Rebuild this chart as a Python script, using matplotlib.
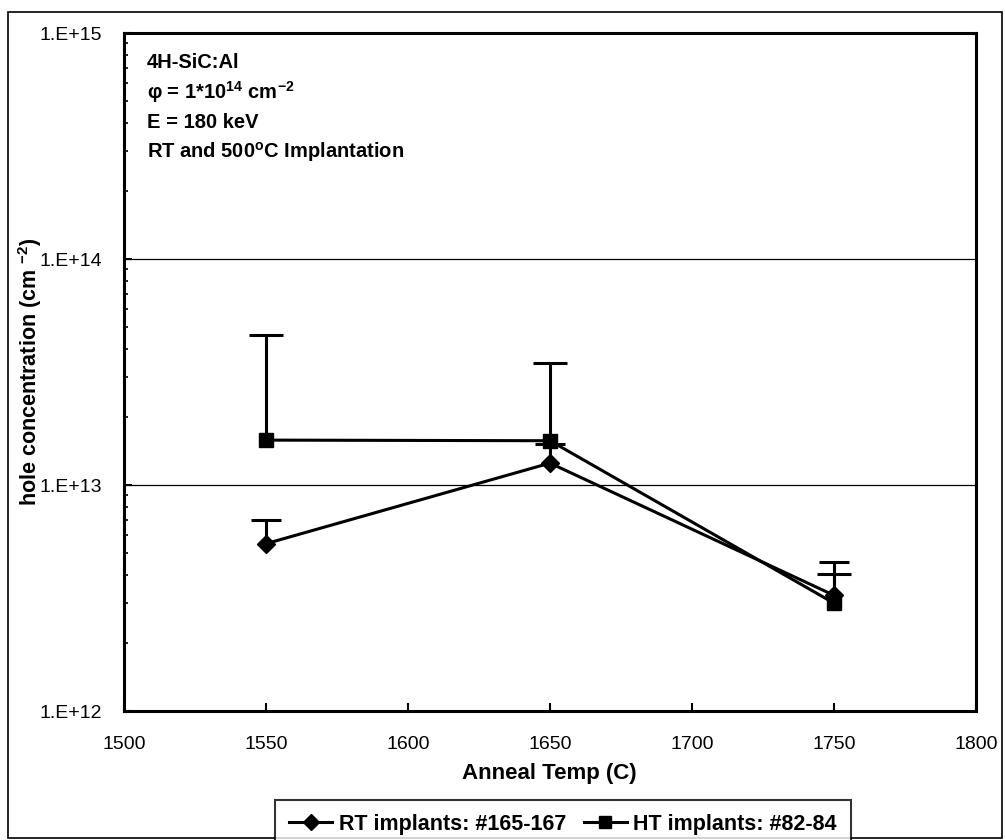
import matplotlib
matplotlib.use("Agg")
import matplotlib.pyplot as plt
from matplotlib.patches import Rectangle
from matplotlib.lines import Line2D
from matplotlib.ticker import LogLocator, FixedLocator, NullFormatter
import numpy as np

plt.rcParams['font.family'] = ['Liberation Sans', 'DejaVu Sans']
plt.rcParams['mathtext.default'] = 'regular'

# Anneal temperatures (C)
temps = [1550, 1650, 1750]

# RT implants: hole concentration (cm^-2) and upper error
rt_conc = [5.5e12, 1.25e13, 3.25e12]
rt_err_top = [7.0e12, 1.52e13, 4.55e12]

# HT implants
ht_conc = [1.58e13, 1.57e13, 3.0e12]
ht_err_top = [4.6e13, 3.45e13, 4.05e12]

x_ticks = [1500, 1550, 1600, 1650, 1700, 1750, 1800]
y_ticks = [1e12, 1e13, 1e14, 1e15]
y_tick_labels = ["1.E+12", "1.E+13", "1.E+14", "1.E+15"]

W, H = 1005, 840
fig = plt.figure(figsize=(W / 100, H / 100), dpi=100)
ax_l, ax_r, ax_t, ax_b = 124, 976, 33, 711
ax = fig.add_axes([ax_l / W, 1 - ax_b / H, (ax_r - ax_l) / W, (ax_b - ax_t) / H])

# outer frame around the whole figure
fig.patches.append(Rectangle((8 / W, 2 / H), 994 / W, 826 / H,
                             transform=fig.transFigure, fill=False,
                             edgecolor='black', linewidth=1.2, zorder=0))

ax.set_yscale('log')
ax.set_xlim(1500, 1800)
ax.set_ylim(1e12, 1e15)

# horizontal major gridlines
for yv in [1e13, 1e14]:
    ax.axhline(yv, color='black', linewidth=0.9, zorder=1)


def upper_errorbar(conc, top, marker, msize, csize, z):
    err = [np.zeros(len(conc)), np.array(top) - np.array(conc)]
    _, caps, _ = ax.errorbar(temps, conc, yerr=err, color='black', linewidth=2.2,
                             marker=marker, markersize=msize, capsize=csize,
                             capthick=2.2, elinewidth=2.2, zorder=z)
    # only the upper whisker carries a cap
    for c in caps:
        if np.allclose(c.get_ydata(), conc):
            c.set_visible(False)


upper_errorbar(rt_conc, rt_err_top, 'D', 9, 11, 3)
upper_errorbar(ht_conc, ht_err_top, 's', 10, 12, 4)

ax.xaxis.set_major_locator(FixedLocator(x_ticks))
ax.set_xticklabels([str(v) for v in x_ticks], fontsize=14)
ax.yaxis.set_major_locator(FixedLocator(y_ticks))
ax.set_yticklabels(y_tick_labels, fontsize=14)
ax.yaxis.set_minor_locator(LogLocator(base=10, subs=np.arange(2, 10)))
ax.yaxis.set_minor_formatter(NullFormatter())

ax.tick_params(axis='both', which='major', direction='in', length=6, width=1.5,
               top=False, right=False)
ax.tick_params(axis='y', which='minor', direction='in', length=3, width=1.2)
ax.tick_params(axis='x', pad=18)
ax.tick_params(axis='y', pad=16)

for sp in ax.spines.values():
    sp.set_linewidth(2.2)

ax.set_xlabel('Anneal Temp (C)', fontsize=16, fontweight='bold')
ax.xaxis.set_label_coords((549 - ax_l) / (ax_r - ax_l), -(773 - ax_b) / (ax_b - ax_t))
ax.xaxis.label.set_va('center')
ax.set_ylabel('hole concentration (cm $^{-2}$)', fontsize=15.5, fontweight='bold')
ax.yaxis.set_label_coords(-(ax_l - 30) / (ax_r - ax_l), 0.5)
ax.yaxis.label.set_va('center')

info = ["4H-SiC:Al",
        "φ = 1*10$^{14}$ cm$^{-2}$",
        "E = 180 keV",
        "RT and 500$^{o}$C Implantation"]
info_y = [63, 92, 123, 152]
for line, yp in zip(info, info_y):
    ax.text(0.027, 1 - (yp - ax_t) / (ax_b - ax_t), line, transform=ax.transAxes,
            fontsize=14.5, fontweight='bold', va='center', ha='left')

handles = [Line2D([], [], color='black', linewidth=2.2, marker='D', markersize=8),
           Line2D([], [], color='black', linewidth=2.2, marker='s', markersize=9)]
labels = ['RT implants: #165-167', 'HT implants: #82-84']
leg = fig.legend(handles, labels, loc='upper center',
                 bbox_to_anchor=(563 / W, 1 - 800 / H),
                 ncol=2, frameon=True, fancybox=False, edgecolor='black',
                 prop={'weight': 'bold', 'size': 15.5},
                 handlelength=2.0, handletextpad=0.3, columnspacing=0.8,
                 borderpad=0.65, borderaxespad=0)
leg.get_frame().set_linewidth(1.5)

fig.savefig('out.png', dpi=100)
